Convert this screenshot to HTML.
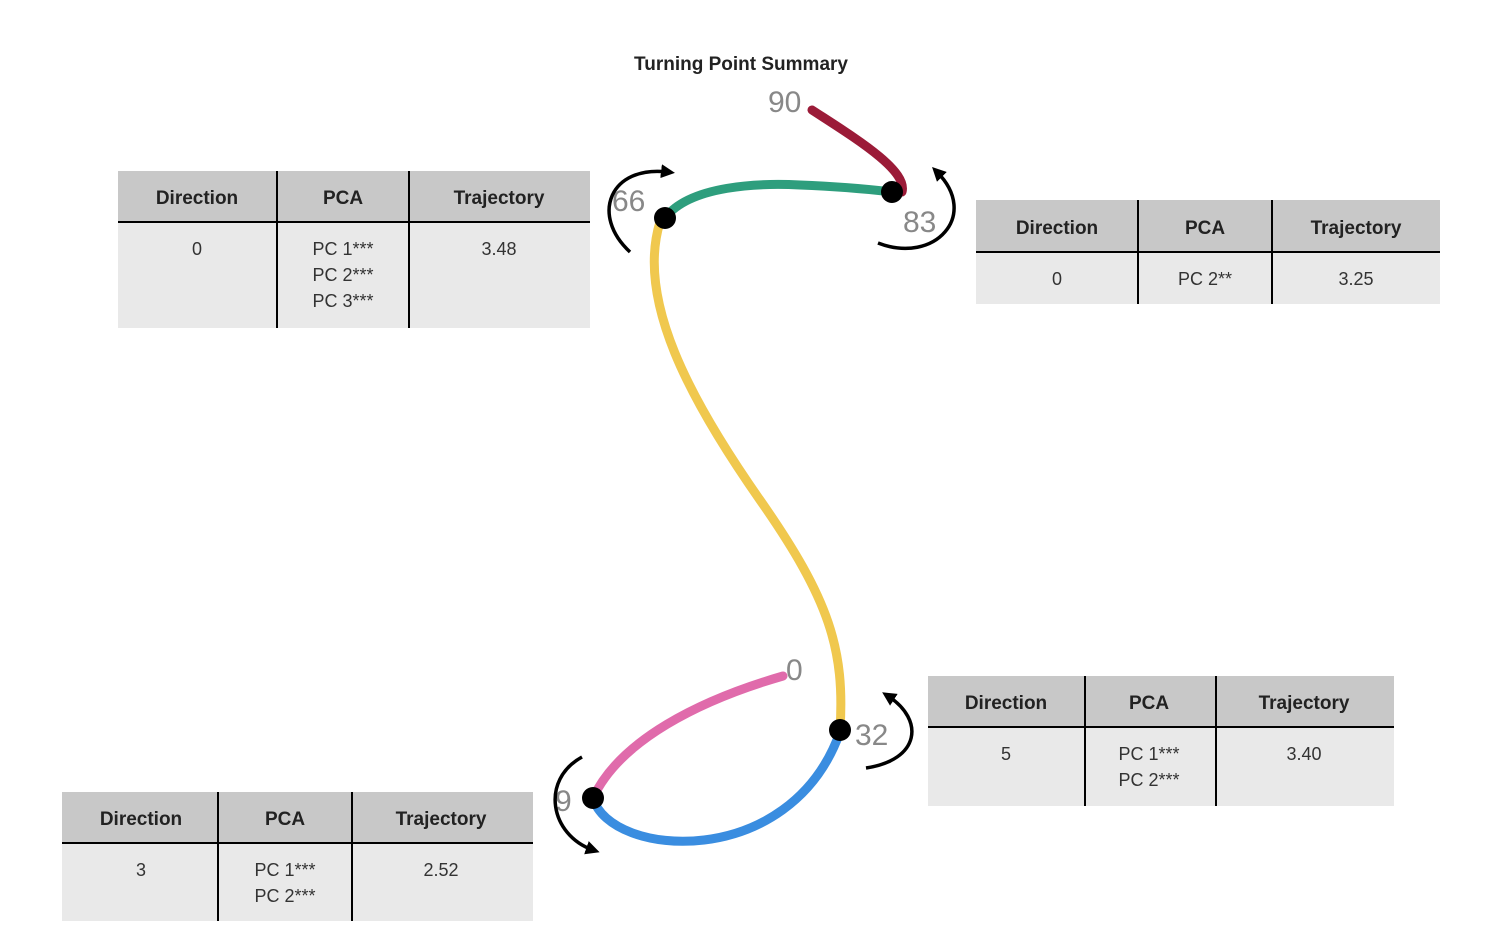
<!DOCTYPE html>
<html><head><style>
body{margin:0;background:#fff;}
svg{display:block;font-family:"Liberation Sans",sans-serif;}
.h{fill:#c8c8c8}.b{fill:#e9e9e9}
.ht{font-size:19px;font-weight:bold;fill:#222;text-anchor:middle}
.bt{font-size:18px;fill:#333;text-anchor:middle}
.n{font-size:30px;fill:#888}
</style></head><body>
<svg width="1488" height="928" viewBox="0 0 1488 928">
<defs><marker id="a" markerWidth="14" markerHeight="14" refX="7" refY="7" orient="auto" markerUnits="userSpaceOnUse"><path d="M0,0 L14,7 L0,14 Z" fill="#000"/></marker></defs>
<text x="741" y="70" style="font-size:19px;font-weight:bold;fill:#222" text-anchor="middle">Turning Point Summary</text>

<rect class="h" x="118" y="171" width="472" height="51"/><rect class="b" x="118" y="222" width="472" height="106"/>
<line x1="118" y1="222" x2="590" y2="222" stroke="#000" stroke-width="2"/>
<line x1="277" y1="171" x2="277" y2="328" stroke="#000" stroke-width="2"/><line x1="409" y1="171" x2="409" y2="328" stroke="#000" stroke-width="2"/>
<text class="ht" x="197" y="204">Direction</text><text class="ht" x="343" y="204">PCA</text><text class="ht" x="499" y="204">Trajectory</text>
<text class="bt" x="197" y="255">0</text><text class="bt" x="343" y="255">PC 1***</text><text class="bt" x="343" y="281">PC 2***</text><text class="bt" x="343" y="307">PC 3***</text><text class="bt" x="499" y="255">3.48</text>

<rect class="h" x="976" y="200" width="464" height="52"/><rect class="b" x="976" y="252" width="464" height="52"/>
<line x1="976" y1="252" x2="1440" y2="252" stroke="#000" stroke-width="2"/>
<line x1="1138" y1="200" x2="1138" y2="304" stroke="#000" stroke-width="2"/><line x1="1272" y1="200" x2="1272" y2="304" stroke="#000" stroke-width="2"/>
<text class="ht" x="1057" y="234">Direction</text><text class="ht" x="1205" y="234">PCA</text><text class="ht" x="1356" y="234">Trajectory</text>
<text class="bt" x="1057" y="285">0</text><text class="bt" x="1205" y="285">PC 2**</text><text class="bt" x="1356" y="285">3.25</text>

<rect class="h" x="928" y="676" width="466" height="51"/><rect class="b" x="928" y="727" width="466" height="79"/>
<line x1="928" y1="727" x2="1394" y2="727" stroke="#000" stroke-width="2"/>
<line x1="1085" y1="676" x2="1085" y2="806" stroke="#000" stroke-width="2"/><line x1="1216" y1="676" x2="1216" y2="806" stroke="#000" stroke-width="2"/>
<text class="ht" x="1006" y="709">Direction</text><text class="ht" x="1149" y="709">PCA</text><text class="ht" x="1304" y="709">Trajectory</text>
<text class="bt" x="1006" y="760">5</text><text class="bt" x="1149" y="760">PC 1***</text><text class="bt" x="1149" y="786">PC 2***</text><text class="bt" x="1304" y="760">3.40</text>

<rect class="h" x="62" y="792" width="471" height="51"/><rect class="b" x="62" y="843" width="471" height="78"/>
<line x1="62" y1="843" x2="533" y2="843" stroke="#000" stroke-width="2"/>
<line x1="218" y1="792" x2="218" y2="921" stroke="#000" stroke-width="2"/><line x1="352" y1="792" x2="352" y2="921" stroke="#000" stroke-width="2"/>
<text class="ht" x="141" y="825">Direction</text><text class="ht" x="285" y="825">PCA</text><text class="ht" x="441" y="825">Trajectory</text>
<text class="bt" x="141" y="876">3</text><text class="bt" x="285" y="876">PC 1***</text><text class="bt" x="285" y="902">PC 2***</text><text class="bt" x="441" y="876">2.52</text>

<g fill="none" stroke-width="9" stroke-linecap="round">
<path d="M660,222 C636,300 690,400 760,500 C830,600 845,650 840,730" stroke="#f0c84e"/>
<path d="M812,110 C855,138 908,170 902,192" stroke="#9b1b38"/>
<path d="M665,218 C690,185 760,183 800,185 C850,187 875,190 892,192" stroke="#2e9e7d"/>
<path d="M783,676 C700,700 620,740 593,798" stroke="#e06bab"/>
<path d="M593,798 C610,858 790,872 840,732" stroke="#3a8de0"/>
</g>
<g fill="#000"><circle cx="665" cy="218" r="11"/><circle cx="892" cy="192" r="11"/><circle cx="840" cy="730" r="11"/><circle cx="593" cy="798" r="11"/></g>
<text class="n" x="768" y="112">90</text><text class="n" x="612" y="211">66</text><text class="n" x="903" y="232">83</text>
<text class="n" x="786" y="680">0</text><text class="n" x="855" y="745">32</text><text class="n" x="555" y="811">9</text>
<g fill="none" stroke="#000" stroke-width="3.5" marker-end="url(#a)">
<path d="M630,252 C590,215 610,165 668,172"/>
<path d="M878,243 C935,265 980,215 937,172"/>
<path d="M866,768 C920,760 925,720 888,696"/>
<path d="M582,757 C540,780 550,835 593,850"/>
</g>
</svg>
</body></html>
